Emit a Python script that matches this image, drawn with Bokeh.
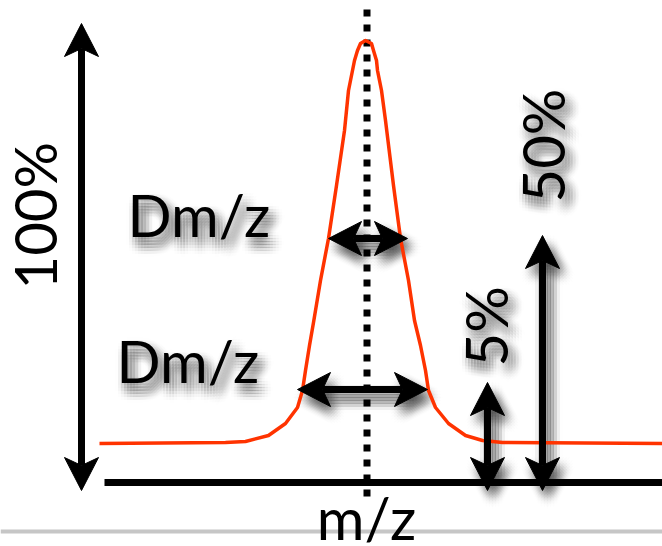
import math
from bokeh.plotting import figure
from bokeh.models import Range1d, ColumnDataSource
from bokeh.embed import file_html
from bokeh.resources import INLINE
from bokeh.core.properties import value

W, H = 662, 546

# All geometry below is given in canvas units measured from the top-left
# corner (y grows downward); flip() converts to the plot's upward y axis.

# Peak trace
peak_x = [99, 225, 245, 268, 285, 297, 302, 305, 309, 313, 320, 328, 336, 344,
          348, 352, 354, 357, 360, 365, 371, 373, 376, 377, 381, 385, 393, 400,
          408, 414, 420, 425, 428, 435, 448, 465, 482, 502, 662]
peak_y = [443, 442, 441, 435, 423, 407, 390, 370, 345, 322, 280, 238, 185, 130,
          90, 70, 60, 50, 43, 40, 43, 50, 60, 70, 90, 120, 185, 238,
          280, 320, 345, 370, 390, 407, 423, 435, 440, 442, 443]

# Axis line, centre line and page rule
baseline_x = [104, 662]
baseline_y = [482, 482]
center_x = [366.5, 366.5]
center_y = [9, 496]
rule_x = [0, 662]
rule_y = [531, 531]

# Double arrows: x0, y0, x1, y1, casts shadow
arrows = [
    (81, 23, 81, 490, False),
    (328, 238, 407, 238, True),
    (297, 389, 427, 389, True),
    (487, 382, 487, 490, True),
    (542, 235, 542, 490, True),
]

# Labels: text, x, y (baseline start), angle, align, casts shadow
labels = [
    ("100%", 59, 289, math.pi / 2, "left", False),
    ("Dm/z", 127, 239, 0.0, "left", True),
    ("Dm/z", 116, 385, 0.0, "left", True),
    ("50%", 567, 202, math.pi / 2, "left", True),
    ("5%", 510, 366, math.pi / 2, "left", True),
    ("m/z", 366, 542, 0.0, "center", False),
]

HEAD_LEN, HEAD_HALF, NOTCH = 33, 17, 8
SHAFT_W = 7
FONT = "Lato"
FONT_SIZE = "58px"
RED = "#ff3300"
# distance between the requested anchor and where the glyph baseline lands
BASE_SHIFT = 25


def flip(v):
    return H - v


def anchor(l):
    # move the anchor "up" along the glyph axis so the baseline lands on target
    txt, x, y, ang = l[0], l[1], l[2], l[3]
    if ang:
        return x - BASE_SHIFT, flip(y)
    return x, flip(y - BASE_SHIFT)


def head(tx, ty, ux, uy):
    nx, ny = -uy, ux
    xs = [tx, tx - HEAD_LEN * ux + HEAD_HALF * nx, tx - (HEAD_LEN - NOTCH) * ux,
          tx - HEAD_LEN * ux - HEAD_HALF * nx]
    ys = [ty, ty - HEAD_LEN * uy + HEAD_HALF * ny, ty - (HEAD_LEN - NOTCH) * uy,
          ty - HEAD_LEN * uy - HEAD_HALF * ny]
    return xs, [flip(y) for y in ys]


def arrow_parts(sel):
    sx, sy, hx, hy = [], [], [], []
    for x0, y0, x1, y1, _ in sel:
        L = math.hypot(x1 - x0, y1 - y0)
        ux, uy = (x1 - x0) / L, (y1 - y0) / L
        back = HEAD_LEN - NOTCH
        sx.append([x0 + back * ux, x1 - back * ux])
        sy.append([flip(y0 + back * uy), flip(y1 - back * uy)])
        a = head(x1, y1, ux, uy)
        b = head(x0, y0, -ux, -uy)
        hx += [a[0], b[0]]
        hy += [a[1], b[1]]
    return sx, sy, hx, hy


p = figure(width=W, height=H, output_backend="svg", toolbar_location=None,
           x_range=Range1d(0, W), y_range=Range1d(0, H),
           x_axis_type=None, y_axis_type=None, min_border=0,
           outline_line_color=None, background_fill_color="white",
           border_fill_color="white")
p.xgrid.visible = False
p.ygrid.visible = False

# soft drop shadow built from faint offset copies (offset right and down)
offsets = []
for dx in range(-12, 13, 3):
    for dy in range(-12, 13, 3):
        r2 = dx * dx + dy * dy
        if r2 <= 150:
            offsets.append((dx + 5, -(dy + 8), 0.045 * math.exp(-r2 / 70.0)))

sh_arrows = [a for a in arrows if a[4]]
ssx, ssy, shx, shy = arrow_parts(sh_arrows)
sh_labels = [l for l in labels if l[5]]
sh_anchor = [anchor(l) for l in sh_labels]
for ox, oy, al in offsets:
    p.multi_line([[x + ox for x in xs] for xs in ssx], [[y + oy for y in ys] for ys in ssy],
                 line_color="black", line_alpha=al, line_width=SHAFT_W)
    p.patches([[x + ox for x in xs] for xs in shx], [[y + oy for y in ys] for ys in shy],
              fill_color="black", fill_alpha=al, line_color=None)
    p.text(x=[a[0] + ox for a in sh_anchor], y=[a[1] + oy for a in sh_anchor],
           text=[l[0] for l in sh_labels], angle=[l[3] for l in sh_labels],
           text_align="left", text_baseline="alphabetic",
           text_font=value(FONT), text_font_size=FONT_SIZE,
           text_color="black", text_alpha=al)

# page rule, axis line and centre line
p.line(rule_x, [flip(v) for v in rule_y], line_color="#c6c6c6", line_width=4)
p.line(baseline_x, [flip(v) for v in baseline_y], line_color="black", line_width=7,
       line_cap="butt")
p.line(center_x, [flip(v) for v in center_y], line_color="black", line_width=7,
       line_dash="7 8", line_cap="butt")

# peak
p.line(peak_x, [flip(v) for v in peak_y], line_color=RED, line_width=3.5,
       line_join="round")

# arrows
sx, sy, hx, hy = arrow_parts(arrows)
p.multi_line(sx, sy, line_color="black", line_width=SHAFT_W, line_cap="butt")
p.patches(hx, hy, fill_color="black", line_color="black", line_width=1)

# labels
anchors = [anchor(l) for l in labels]
src = ColumnDataSource(dict(
    x=[a[0] for a in anchors], y=[a[1] for a in anchors], text=[l[0] for l in labels],
    angle=[l[3] for l in labels], align=[l[4] for l in labels]))
p.text(x="x", y="y", text="text", angle="angle", text_align="align",
       text_baseline="alphabetic", text_font=value(FONT), text_font_size=FONT_SIZE,
       text_color="black", source=src)

open("out.html", "w").write(file_html(p, INLINE))
